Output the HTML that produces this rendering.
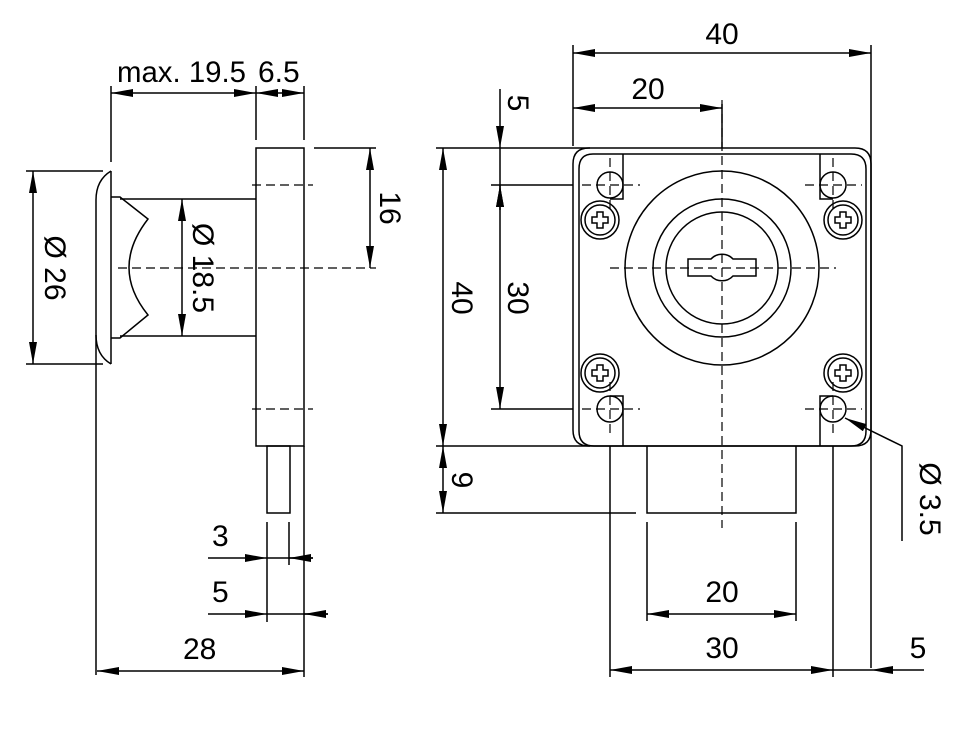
<!DOCTYPE html>
<html><head><meta charset="utf-8"><style>html,body{margin:0;padding:0;background:#fff}svg{display:block}</style></head><body>
<svg width="980" height="754" viewBox="0 0 980 754" xmlns="http://www.w3.org/2000/svg" font-family="Liberation Sans, Arial, sans-serif" font-size="30">
<defs>
<marker id="a" markerUnits="userSpaceOnUse" markerWidth="24" markerHeight="10" refX="22" refY="4" orient="auto-start-reverse"><path d="M0,0 L22,4 L0,8 Z" fill="#000"/></marker>
<g id="s" stroke="#000" stroke-width="1.5" fill="none"><circle cx="0" cy="0" r="19"/><circle cx="0" cy="0" r="15"/><path d="M-3,-8 H3 V-3 H8 V3 H3 V8 H-3 V3 H-8 V-3 H-3 Z"/></g>
</defs>
<g stroke="#000" stroke-width="1.5" fill="none">
<!-- LEFT VIEW -->
<rect x="256" y="148" width="48" height="298"/>
<rect x="267" y="446" width="23" height="67"/>
<line x1="111" y1="171" x2="111" y2="364"/>
<path d="M111,171 Q96,180 96,200 L96,675"/>
<path d="M96,335 Q96,355 111,364"/>
<path d="M111,197 L120,197 L148,219 Q110,268 148,315 L120,338 L111,338"/>
<line x1="120" y1="199" x2="256" y2="199"/>
<line x1="120" y1="336" x2="256" y2="336"/>
<line x1="26" y1="171" x2="103" y2="171"/>
<line x1="26" y1="364" x2="103" y2="364"/>
<line x1="33" y1="171" x2="33" y2="364" marker-start="url(#a)" marker-end="url(#a)"/>
<line x1="182" y1="199" x2="182" y2="336" marker-start="url(#a)" marker-end="url(#a)"/>
<line x1="314" y1="148" x2="376" y2="148"/>
<line x1="370" y1="148" x2="370" y2="268" marker-start="url(#a)" marker-end="url(#a)"/>
<line x1="111" y1="86" x2="111" y2="162"/>
<line x1="256" y1="86" x2="256" y2="140"/>
<line x1="304" y1="86" x2="304" y2="140"/>
<line x1="111" y1="93" x2="256" y2="93" marker-start="url(#a)" marker-end="url(#a)"/>
<line x1="256" y1="93" x2="304" y2="93" marker-start="url(#a)" marker-end="url(#a)"/>
<line x1="267" y1="522" x2="267" y2="622"/>
<line x1="289" y1="522" x2="289" y2="565"/>
<line x1="304" y1="446" x2="304" y2="677"/>
<line x1="208" y1="558" x2="267" y2="558" marker-end="url(#a)"/>
<line x1="267" y1="558" x2="313" y2="558"/>
<line x1="313" y1="558" x2="289" y2="558" marker-end="url(#a)"/>
<line x1="208" y1="614" x2="267" y2="614" marker-end="url(#a)"/>
<line x1="267" y1="614" x2="328" y2="614"/>
<line x1="328" y1="614" x2="304" y2="614" marker-end="url(#a)"/>
<line x1="97" y1="671" x2="304" y2="671" marker-start="url(#a)" marker-end="url(#a)"/>
<!-- RIGHT VIEW -->
<path d="M589,148 H855 Q871,148 871,164 V430 Q871,446 855,446 H589 Q573,446 573,430 V164 Q573,148 589,148 Z"/>
<path d="M593,154 H851 Q866,154 866,169 V431 Q866,446 851,446 H594 Q579,446 579,431 V169 Q579,154 593,154 Z"/>
<path d="M623,154 V199 H610"/><path d="M820,154 V199 H833"/>
<path d="M623,446 V396 H610"/><path d="M820,446 V396 H833"/>
<circle cx="722" cy="268" r="97"/><circle cx="722" cy="268" r="69"/><circle cx="722" cy="268" r="56"/>
<path d="M688,259 H711 A15,15 0 0 1 733,259 H756 V276 H733 A15,15 0 0 1 711,276 H688 Z"/>
<circle cx="610" cy="185" r="13"/><circle cx="833" cy="185" r="13"/>
<circle cx="610" cy="409" r="13"/><circle cx="833" cy="409" r="13"/>
<use href="#s" x="600" y="220"/><use href="#s" x="843" y="220"/>
<use href="#s" x="600" y="373"/><use href="#s" x="843" y="373"/>
<path d="M647,446 V513 H796 V446"/>
<line x1="573" y1="45" x2="573" y2="146"/>
<line x1="871" y1="45" x2="871" y2="668"/>
<line x1="573" y1="53" x2="871" y2="53" marker-start="url(#a)" marker-end="url(#a)"/>
<line x1="573" y1="108" x2="722" y2="108" marker-start="url(#a)" marker-end="url(#a)"/>
<line x1="722" y1="104" x2="722" y2="148"/>
<line x1="436" y1="148" x2="590" y2="148"/>
<line x1="491" y1="185" x2="573" y2="185"/>
<line x1="491" y1="409" x2="573" y2="409"/>
<line x1="436" y1="446" x2="590" y2="446"/>
<line x1="436" y1="513" x2="636" y2="513"/>
<line x1="500" y1="89" x2="500" y2="148" marker-end="url(#a)"/>
<line x1="500" y1="148" x2="500" y2="185"/>
<line x1="500" y1="210" x2="500" y2="185" marker-end="url(#a)"/>
<line x1="500" y1="185" x2="500" y2="409" marker-start="url(#a)" marker-end="url(#a)"/>
<line x1="443" y1="148" x2="443" y2="446" marker-start="url(#a)" marker-end="url(#a)"/>
<line x1="443" y1="446" x2="443" y2="513" marker-start="url(#a)" marker-end="url(#a)"/>
<line x1="610" y1="446" x2="610" y2="677"/>
<line x1="833" y1="446" x2="833" y2="677"/>
<line x1="647" y1="522" x2="647" y2="621"/>
<line x1="796" y1="522" x2="796" y2="621"/>
<line x1="647" y1="614" x2="796" y2="614" marker-start="url(#a)" marker-end="url(#a)"/>
<line x1="610" y1="670" x2="833" y2="670" marker-start="url(#a)" marker-end="url(#a)"/>
<line x1="833" y1="670" x2="871" y2="670"/>
<line x1="924" y1="670" x2="871" y2="670" marker-end="url(#a)"/>
<path d="M902,541 V446 L845,418" marker-end="url(#a)"/>
</g>
<g stroke="#000" stroke-width="1.2" fill="none" stroke-dasharray="9,5">
<line x1="118" y1="268" x2="376" y2="268"/>
<line x1="252" y1="185" x2="313" y2="185"/>
<line x1="252" y1="409" x2="313" y2="409"/>
<line x1="722" y1="100" x2="722" y2="528"/>
<line x1="610" y1="158" x2="610" y2="212"/>
<line x1="833" y1="158" x2="833" y2="212"/>
<line x1="610" y1="382" x2="610" y2="436"/>
<line x1="833" y1="382" x2="833" y2="436"/>
<line x1="610" y1="268" x2="836" y2="268"/>
<line x1="582" y1="185" x2="640" y2="185"/><line x1="805" y1="185" x2="862" y2="185"/>
<line x1="582" y1="409" x2="640" y2="409"/><line x1="805" y1="409" x2="862" y2="409"/>
</g>
<g fill="#000">
<text x="117" y="82" textLength="129" lengthAdjust="spacingAndGlyphs">max. 19.5</text><text x="258" y="82">6.5</text>
<text x="212" y="546">3</text><text x="212" y="602">5</text><text x="183" y="659">28</text>
<text x="722" y="44" text-anchor="middle">40</text>
<text x="648" y="99" text-anchor="middle">20</text>
<text x="722" y="602" text-anchor="middle">20</text>
<text x="722" y="658" text-anchor="middle">30</text>
<text x="918" y="658" text-anchor="middle">5</text>
<text transform="translate(45,268) rotate(90)" text-anchor="middle">Ø 26</text>
<text transform="translate(193,268) rotate(90)" text-anchor="middle">Ø 18.5</text>
<text transform="translate(380,208) rotate(90)" text-anchor="middle">16</text>
<text transform="translate(452,298) rotate(90)" text-anchor="middle">40</text>
<text transform="translate(508,298) rotate(90)" text-anchor="middle">30</text>
<text transform="translate(508,103) rotate(90)" text-anchor="middle">5</text>
<text transform="translate(452,480) rotate(90)" text-anchor="middle">9</text>
<text transform="translate(920,499) rotate(90)" text-anchor="middle">Ø 3.5</text>
</g>
</svg>
</body></html>
